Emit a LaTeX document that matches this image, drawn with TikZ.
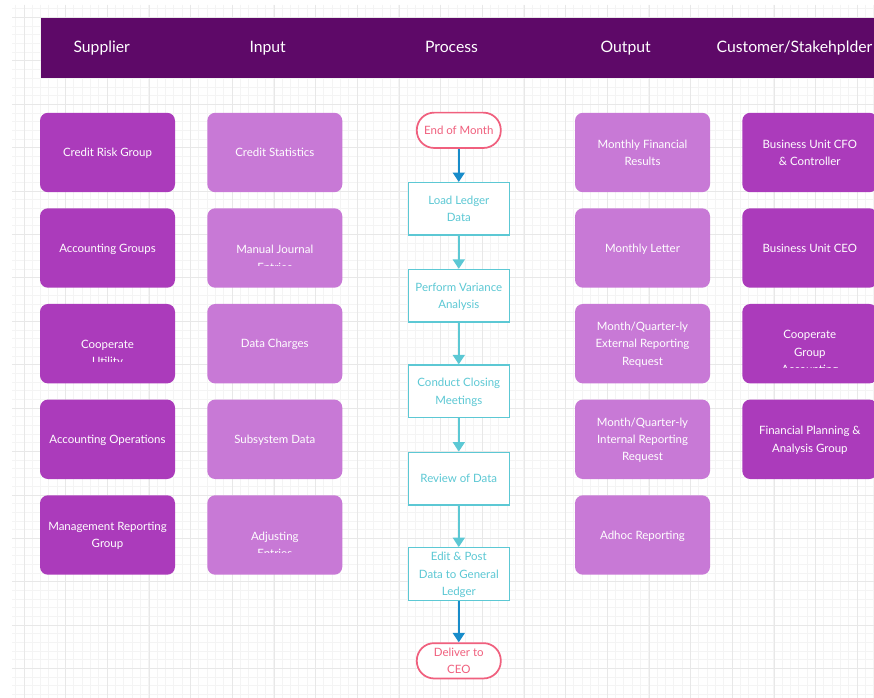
\documentclass[tikz,border=0pt]{standalone}
\usepackage{fontspec}
\setmainfont{Lato}
\usetikzlibrary{arrows.meta}

\definecolor{hdrpurple}{RGB}{94,9,104}
\definecolor{darkpurple}{RGB}{171,59,187}
\definecolor{lightpurple}{RGB}{200,121,214}
\definecolor{flowteal}{RGB}{92,200,212}
\definecolor{flowpink}{RGB}{240,96,126}
\definecolor{flowblue}{RGB}{24,140,202}
\definecolor{gridminor}{RGB}{244,244,244}
\definecolor{gridmajor}{RGB}{232,232,232}

\tikzset{every picture/.style={line width=0.75pt}}
\tikzset{
  boxfont/.style={font=\fontsize{8.6}{13}\selectfont},
  darkbox/.style={fill=darkpurple, rounded corners=6pt, minimum width=101.25pt, minimum height=59.6pt, text=white, boxfont, align=center, inner sep=0pt, text depth=0pt},
  lightbox/.style={darkbox, fill=lightpurple},
  boxtext/.style={text=white, boxfont, align=center, inner sep=0pt},
  hdrtext/.style={text=white, font=\fontsize{11.8}{14}\selectfont, inner sep=0pt, anchor=base},
  flowbox/.style={draw=flowteal, line width=1.1pt, fill=white, minimum width=75.75pt, minimum height=39.4pt, text=flowteal, boxfont, align=center, inner sep=0pt, text depth=0pt},
  flowend/.style={draw=flowpink, line width=1.3pt, fill=white, rounded corners=13pt, minimum width=63pt, minimum height=26.5pt, text=flowpink, boxfont, align=center, inner sep=0pt, text depth=0pt},
  flowarrow/.style={draw=flowteal, line width=1.1pt, -{Triangle[width=9pt,length=7pt]}}
}

\begin{document}
\begin{tikzpicture}[x=0.75pt,y=0.75pt,yscale=-1,xscale=1]
\useasboundingbox (0,0) rectangle (874,698);
\clip (0,0) rectangle (874,698);
\fill[white] (0,0) rectangle (874,698);

%Grid
\begin{scope}
\clip (12,5) rectangle (874,698);
\foreach \i in {0,...,103} \draw[gridminor] (15.667+8.333*\i,5) -- (15.667+8.333*\i,698);
\foreach \i in {0,...,79} \draw[gridminor] (12,8.92+8.68*\i) -- (874,8.92+8.68*\i);
\foreach \i in {0,...,20} \draw[gridmajor] (24+41.667*\i,5) -- (24+41.667*\i,698);
\foreach \i in {0,...,15} \draw[gridmajor] (12,17.6+43.4*\i) -- (874,17.6+43.4*\i);
\end{scope}

%Shape: Header band
\fill[hdrpurple] (41,18.3) rectangle (880,77.7);
% Text Node
\node[hdrtext] (hdrsupplier) at (101.7,52.5) {Supplier};
\node[hdrtext] (hdrinput) at (267.7,52.5) {Input};
\node[hdrtext] (hdrprocess) at (451.5,52.5) {Process};
\node[hdrtext] (hdroutput) at (625.7,52.5) {Output};
\node[hdrtext] (hdrcustomer) at (794.5,52.5) {Customer/Stakehplder};

%Supplier column
\node[darkbox] (sup1) at (107.5,152.5) {Credit Risk Group};
\node[darkbox] (sup2) at (107.5,248) {Accounting Groups};
\node[darkbox] (sup3) at (107.5,343.7) {};
\begin{scope}
\clip (40,304) rectangle (175,361.5);
\node[boxtext] (sup3txt) at (107.5,354) {Cooperate\\Utility};
\end{scope}
\node[darkbox] (sup4) at (107.5,439.3) {Accounting Operations};
\node[darkbox] (sup5) at (107.5,535) {Management Reporting\\Group};

%Input column
\node[lightbox] (inp1) at (274.8,152.5) {Credit Statistics};
\node[lightbox] (inp2) at (274.8,248) {};
\begin{scope}
\clip (207,208) rectangle (342,265.5);
\node[boxtext] (inp2txt) at (274.8,258.3) {Manual Journal\\Entries};
\end{scope}
\node[lightbox] (inp3) at (274.8,343.7) {Data Charges};
\node[lightbox] (inp4) at (274.8,439.3) {Subsystem Data};
\node[lightbox] (inp5) at (274.8,535) {};
\begin{scope}
\clip (207,495) rectangle (342,552.3);
\node[boxtext] (inp5txt) at (274.8,545) {Adjusting\\Entries};
\end{scope}

%Process column
\node[flowend] (endmonth) at (458.8,130.3) {End of Month};
\node[flowbox] (loadledger) at (458.8,208.9) {Load Ledger\\Data};
\node[flowbox] (variance) at (458.8,295.8) {Perform Variance\\Analysis};
\node[flowbox] (closing) at (458.8,391.3) {Conduct Closing\\Meetings};
\node[flowbox] (review) at (458.8,478.5) {Review of Data};
\node[flowbox] (editpost) at (458.8,574) {Edit \& Post\\Data to General\\Ledger};
\node[flowend] (deliver) at (458.8,660.8) {Deliver to\\CEO};

%Straight Lines
\draw[flowarrow, draw=flowblue, fill=flowblue] (endmonth) -- (loadledger);
\draw[flowarrow, fill=flowteal] (loadledger) -- (variance);
\draw[flowarrow, fill=flowteal] (variance) -- (closing);
\draw[flowarrow, fill=flowteal] (closing) -- (review);
\draw[flowarrow, fill=flowteal] (review) -- (editpost);
\draw[flowarrow, draw=flowblue, fill=flowblue] (editpost) -- (deliver);

%Output column
\node[lightbox] (out1) at (642.5,152.5) {Monthly Financial\\Results};
\node[lightbox] (out2) at (642.5,248) {Monthly Letter};
\node[lightbox] (out3) at (642.5,343.7) {Month/Quarter-ly\\External Reporting\\Request};
\node[lightbox] (out4) at (642.5,439.3) {Month/Quarter-ly\\Internal Reporting\\Request};
\node[lightbox] (out5) at (642.5,535) {Adhoc Reporting};

%Customer column
\node[darkbox] (cus1) at (809.8,152.5) {Business Unit CFO\\\& Controller};
\node[darkbox] (cus2) at (809.8,248) {Business Unit CEO};
\node[darkbox] (cus3) at (809.8,343.7) {};
\begin{scope}
\clip (742,304) rectangle (877,368);
\node[boxtext] (cus3txt) at (809.8,353) {Cooperate\\Group\\Accounting};
\end{scope}
\node[darkbox] (cus4) at (809.8,439.3) {Financial Planning \&\\Analysis Group};

\end{tikzpicture}
\end{document}
